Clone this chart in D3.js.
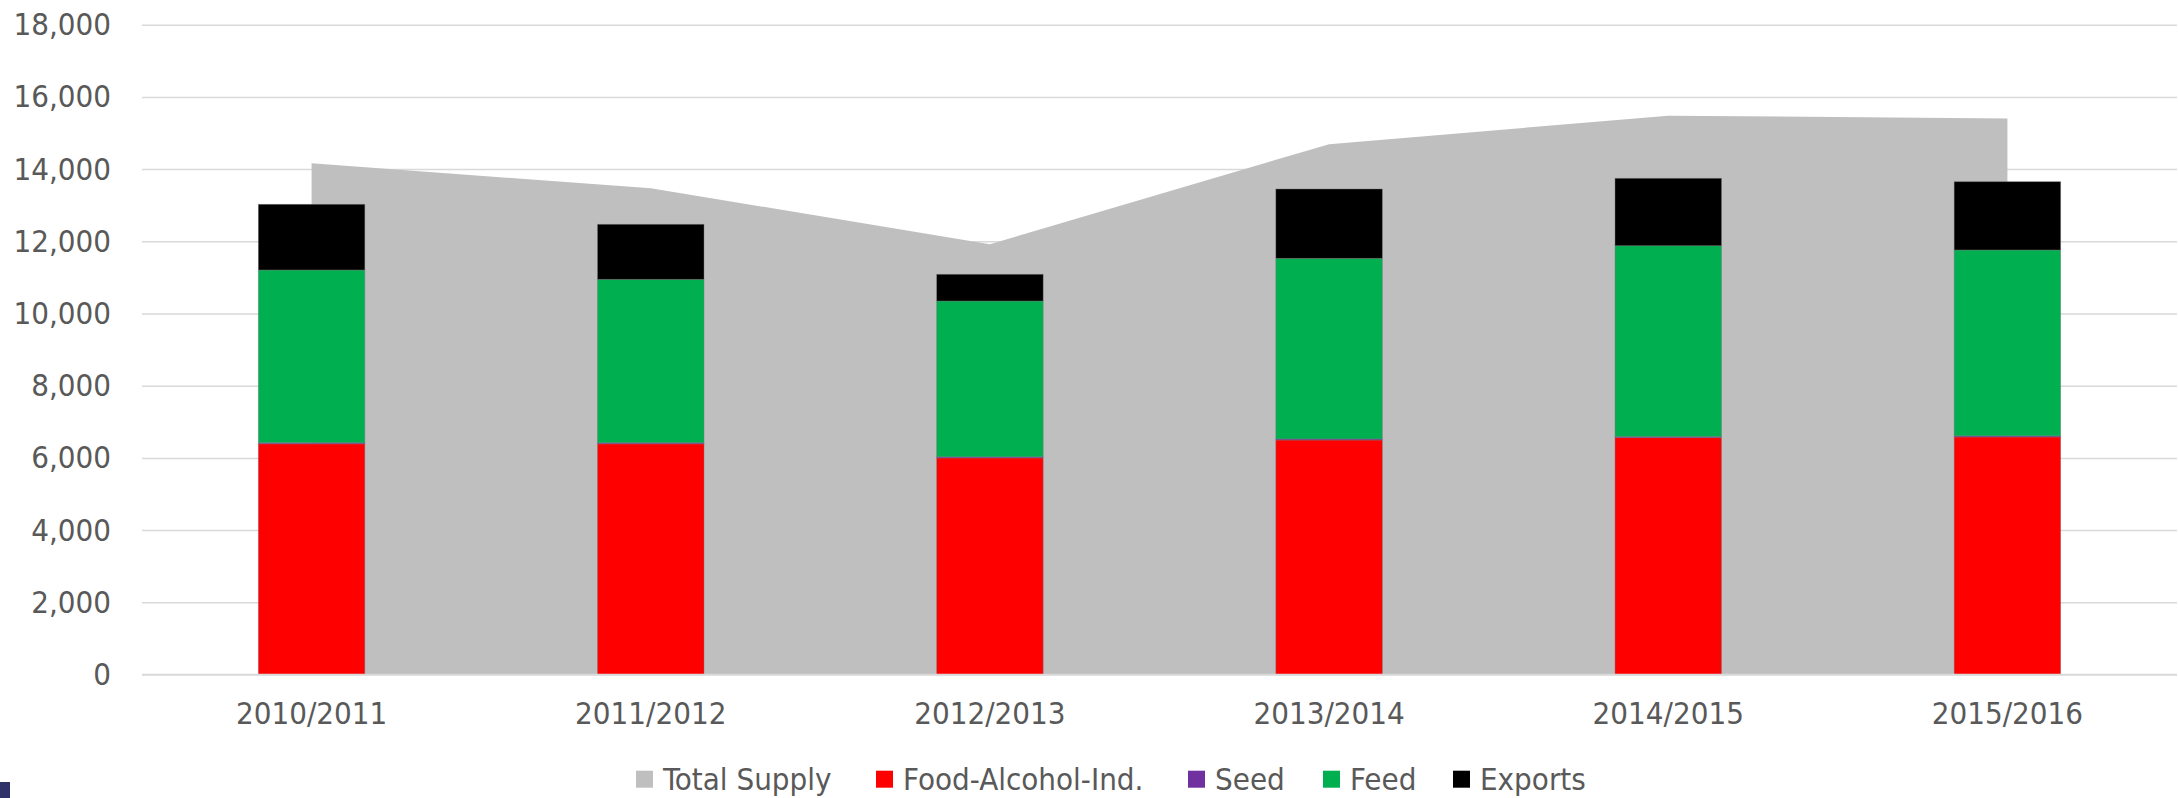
<!DOCTYPE html>
<html>
<head>
<meta charset="utf-8">
<script src="https://cdn.jsdelivr.net/npm/d3@7"></script>
<style>
  html, body { margin: 0; padding: 0; background: #ffffff; }
  svg { display: block; }
  text { font-family: "DejaVu Sans Condensed", "DejaVu Sans", sans-serif; font-stretch: condensed; fill: #595959; }
</style>
</head>
<body>
<svg id="chart" width="2178" height="798"></svg>
<script>
// ---- data ----
const categories = ["2010/2011", "2011/2012", "2012/2013", "2013/2014", "2014/2015", "2015/2016"];
const totalSupply = [14160, 13470, 11920, 14690, 15480, 15400];
const foodAlcoholInd = [6390, 6390, 6000, 6495, 6560, 6580];
const seed = [30, 30, 30, 30, 30, 30];
const feed = [4785, 4527, 4316, 5004, 5288, 5149];
const exportsVals = [1820, 1524, 740, 1920, 1867, 1892];
const yTicks = [0, 2000, 4000, 6000, 8000, 10000, 12000, 14000, 16000, 18000];
const legendLabels = ["Total Supply", "Food-Alcohol-Ind.", "Seed", "Feed", "Exports"];
const legendColors = ["#bfbfbf", "#ff0000", "#7030a0", "#00b050", "#000000"];

// ---- layout ----
const svg = d3.select("#chart");
const FONT = "'DejaVu Sans Condensed', 'DejaVu Sans', sans-serif";
const FS = 31;
const plot = { left: 142, right: 2177, top: 24.7, bottom: 674.5 };

const x = d3.scaleBand().domain(categories).range([plot.left, plot.right]).paddingInner(0).paddingOuter(0);
const y = d3.scaleLinear().domain([0, 18000]).range([plot.bottom, plot.top]);
const center = c => x(c) + x.bandwidth() / 2;
const barW = x.bandwidth() * 0.314;

// gridlines
const grid = svg.append("g")
  .attr("transform", `translate(${plot.left},0)`)
  .call(d3.axisLeft(y).tickValues(yTicks).tickSize(-(plot.right - plot.left)).tickFormat(""));
grid.select(".domain").remove();
grid.selectAll(".tick line").attr("stroke", "#d9d9d9").attr("stroke-width", 1.5);

// y labels
const yAxis = svg.append("g")
  .attr("transform", `translate(${plot.left - 31},0)`)
  .call(d3.axisLeft(y).tickValues(yTicks).tickSize(0).tickPadding(0).tickFormat(d3.format(",")));
yAxis.select(".domain").remove();
yAxis.selectAll("text")
  .attr("font-family", FONT).attr("font-stretch", "condensed")
  .attr("font-size", FS).attr("fill", "#595959");

// area (Total Supply)
const supplyData = categories.map((c, i) => ({ c, v: totalSupply[i] }));
const area = d3.area()
  .x(d => center(d.c))
  .y0(y(0))
  .y1(d => y(d.v));
svg.append("path").datum(supplyData)
  .attr("d", area)
  .attr("fill", "#bfbfbf");

// stacked bars
const rows = categories.map((c, i) => ({
  c, food: foodAlcoholInd[i], seed: seed[i], feed: feed[i], exports: exportsVals[i]
}));
const keys = ["food", "seed", "feed", "exports"];
const colors = { food: "#ff0000", seed: "#7030a0", feed: "#00b050", exports: "#000000" };
const stack = d3.stack().keys(keys)(rows);
svg.append("g").selectAll("g").data(stack).join("g")
  .attr("fill", d => colors[d.key])
  .selectAll("rect").data(d => d).join("rect")
  .attr("x", d => center(d.data.c) - barW / 2)
  .attr("width", barW)
  .attr("y", d => y(d[1]))
  .attr("height", d => y(d[0]) - y(d[1]))
  .attr("stroke", "rgba(120,120,120,0.55)")
  .attr("stroke-width", 0.75);

// x-axis line (baseline)
svg.append("line")
  .attr("x1", plot.left).attr("x2", plot.right)
  .attr("y1", y(0)).attr("y2", y(0))
  .attr("stroke", "#d9d9d9").attr("stroke-width", 1.5);

// x labels
const xAxis = svg.append("g")
  .attr("transform", `translate(0,${y(0)})`)
  .call(d3.axisBottom(x).tickSize(0).tickPadding(27));
xAxis.select(".domain").remove();
xAxis.selectAll("text")
  .attr("font-family", FONT).attr("font-stretch", "condensed")
  .attr("font-size", FS).attr("fill", "#595959");

// legend (item positions as in the reference layout)
const legendX = [636, 876, 1188, 1323, 1453];
const ly = 770.7;
const legend = svg.append("g");
legendLabels.forEach((lab, i) => {
  legend.append("rect")
    .attr("x", legendX[i]).attr("y", ly).attr("width", 17).attr("height", 17)
    .attr("fill", legendColors[i]);
  legend.append("text")
    .attr("x", legendX[i] + 27).attr("y", ly + 19)
    .attr("font-family", FONT).attr("font-stretch", "condensed")
    .attr("font-size", FS).attr("fill", "#595959")
    .text(lab);
});

// small corner mark
svg.append("rect").attr("x", 0).attr("y", 782).attr("width", 10).attr("height", 16).attr("fill", "#30336a");
</script>
</body>
</html>
